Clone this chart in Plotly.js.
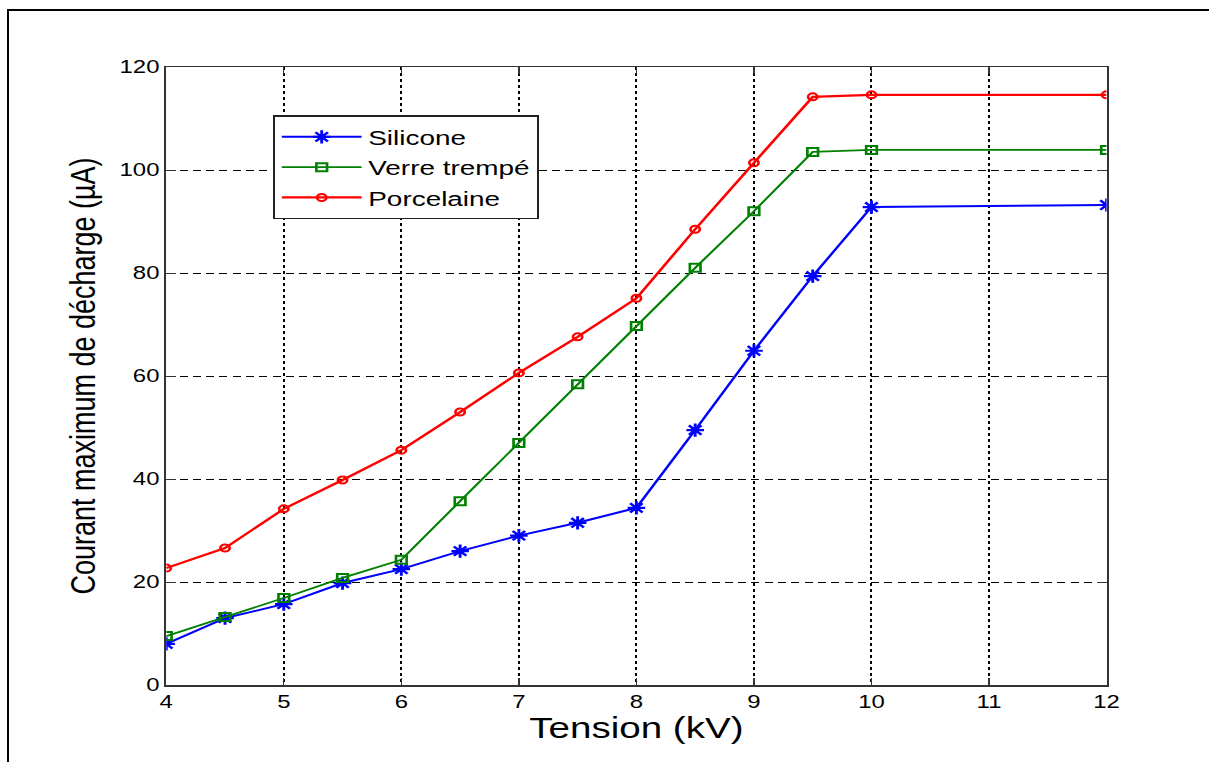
<!DOCTYPE html>
<html>
<head>
<meta charset="utf-8">
<script src="https://cdn.plot.ly/plotly-3.0.1.min.js"></script>
<style>
html, body { margin:0; padding:0; background:#fff; overflow:hidden; }
#wrap { position:absolute; left:0; top:0; width:1209px; height:762px; overflow:hidden; }
#chart { position:absolute; left:0; top:0; width:909px; height:762px; transform-origin:0 0; transform:scaleX(1.33); }
#frame { position:absolute; left:7px; top:9px; width:1210px; height:760px; border-left:2px solid #000; border-top:2px solid #000; pointer-events:none; }
</style>
</head>
<body>
<div id="wrap"><div id="chart"></div></div>
<div id="frame"></div>
<script>
const tension = [4, 4.5, 5, 5.5, 6, 6.5, 7, 7.5, 8, 8.5, 9, 9.5, 10, 12];
const silicone = [8.0, 13.0, 15.7, 19.8, 22.5, 26.0, 29.0, 31.5, 34.4, 49.5, 64.9, 79.4, 92.8, 93.2];
const verreTrempe = [9.5, 13.2, 16.9, 20.8, 24.3, 35.7, 47.0, 58.4, 69.7, 81.0, 92.0, 103.5, 103.9, 103.9];
const porcelaine = [22.7, 26.6, 34.2, 39.8, 45.6, 53.0, 60.6, 67.6, 75.1, 88.5, 101.4, 114.2, 114.6, 114.6];
const xTicks = [4, 5, 6, 7, 8, 9, 10, 11, 12];
const yTicks = [0, 20, 40, 60, 80, 100, 120];

const font = 'Liberation Sans, Arial, sans-serif';

const traces = [
  {x: tension, y: silicone, name: 'Silicone', mode: 'lines+markers',
   line: {color: '#0000FF', width: 2},
   marker: {symbol: 'asterisk-open', size: 11, color: '#0000FF', line: {color: '#0000FF', width: 2.2}}},
  {x: tension, y: verreTrempe, name: 'Verre trempé', mode: 'lines+markers',
   line: {color: '#008000', width: 1.8},
   marker: {symbol: 'square-open', size: 8, color: '#008000', line: {color: '#008000', width: 2}}},
  {x: tension, y: porcelaine, name: 'Porcelaine', mode: 'lines+markers',
   line: {color: '#FF0000', width: 2.2},
   marker: {symbol: 'circle-open', size: 7, color: '#FF0000', line: {color: '#FF0000', width: 2}}}
];

const layout = {
  width: 909, height: 762,
  margin: {l: 124.8, r: 76.7, t: 67, b: 77},
  paper_bgcolor: 'rgba(0,0,0,0)', plot_bgcolor: '#fff',
  font: {family: font, color: '#000'},
  showlegend: true,
  legend: {
    x: 0.1137, y: 0.922, xanchor: 'left', yanchor: 'top',
    bgcolor: '#fff', bordercolor: '#222', borderwidth: 1.5,
    font: {family: font, size: 21, color: '#000'},
    itemwidth: 60, tracegroupgap: 0
  },
  xaxis: {
    range: [4, 12], tickvals: xTicks, ticktext: xTicks.map(String),
    showline: true, linecolor: '#333', linewidth: 1.5, mirror: 'ticks',
    ticks: 'inside', ticklen: 7, tickcolor: '#333',
    showgrid: true, gridcolor: '#000', gridwidth: 1.5, griddash: '3px,3px',
    zeroline: false,
    tickfont: {family: font, size: 18, color: '#000'},
    title: {text: 'Tension (kV)', font: {family: font, size: 29, color: '#000'}, standoff: 6},
    automargin: false
  },
  yaxis: {
    range: [0, 120], tickvals: yTicks, ticktext: yTicks.map(String),
    showline: true, linecolor: '#333', linewidth: 1.5, mirror: 'ticks',
    ticks: 'inside', ticklen: 7, tickcolor: '#333',
    showgrid: true, gridcolor: '#000', gridwidth: 1, griddash: '6px,4px',
    zeroline: false,
    tickfont: {family: font, size: 18, color: '#000'},
    title: {text: 'Courant maximum de décharge (µA)', font: {family: font, size: 27, color: '#000'}, standoff: 9.5},
    automargin: false
  }
};

Plotly.newPlot('chart', traces, layout, {staticPlot: true, displayModeBar: false});
</script>
</body>
</html>
